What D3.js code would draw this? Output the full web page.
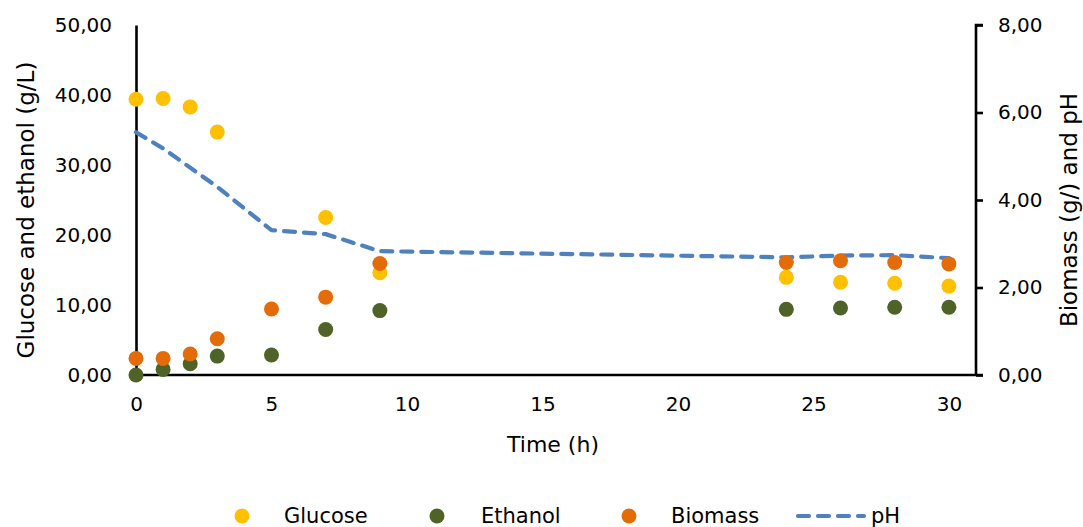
<!DOCTYPE html>
<html>
<head>
<meta charset="utf-8">
<script src="https://cdn.jsdelivr.net/npm/d3@7/dist/d3.min.js"></script>
<style>
  html, body { margin: 0; padding: 0; background: #fff; }
  svg { display: block; font-family: "DejaVu Sans", Roboto, sans-serif; }
</style>
</head>
<body>
<svg id="chart" width="1083" height="527"></svg>
<script>
// Fermentation time course
const time = [0, 1, 2, 3, 5, 7, 9, 24, 26, 28, 30];
const glucose = [39.4, 39.5, 38.3, 34.7, null, 22.5, 14.6, 13.95, 13.25, 13.1, 12.7];
const ethanol = [0.0, 0.8, 1.6, 2.7, 2.86, 6.5, 9.2, 9.38, 9.57, 9.67, 9.67];
const biomass = [0.38, 0.38, 0.48, 0.83, 1.51, 1.78, 2.55, 2.57, 2.61, 2.57, 2.54];
const ph = [5.55, 5.18, 4.74, 4.30, 3.31, 3.22, 2.83, 2.69, 2.73, 2.74, 2.67];

const xTicks = [0, 5, 10, 15, 20, 25, 30];
const leftTicks = [0, 10, 20, 30, 40, 50];
const rightTicks = [0, 2, 4, 6, 8];

const colors = { glucose: "#FFC000", ethanol: "#4F6228", biomass: "#E36C09", ph: "#4F81BD" };
const FONT = '"DejaVu Sans", Roboto, sans-serif';

const svg = d3.select("#chart");
const x = d3.scaleLinear().domain([0, 31]).range([136, 976]);
const yL = d3.scaleLinear().domain([0, 50]).range([375, 25]);
const yR = d3.scaleLinear().domain([0, 8]).range([375, 25]);

const fmt = d => d3.format(".2f")(d).replace(".", ",");

// Axes
const gx = svg.append("g").attr("transform", "translate(0,375)")
  .call(d3.axisBottom(x).tickValues(xTicks).tickSize(0).tickPadding(22).tickFormat(d3.format("d")));
const gl = svg.append("g").attr("transform", "translate(136,0)")
  .call(d3.axisLeft(yL).tickValues(leftTicks).tickSize(0).tickPadding(24).tickFormat(fmt));
const gr = svg.append("g").attr("transform", "translate(976,0)")
  .call(d3.axisRight(yR).tickValues(rightTicks).tickSize(7).tickPadding(15).tickFormat(fmt));

[gx, gl, gr].forEach(g => {
  g.select(".domain").attr("stroke", "#000").attr("stroke-width", 2.6);
  g.selectAll(".tick line").attr("stroke", "#000").attr("stroke-width", 2.6);
  g.selectAll(".tick text").attr("fill", "#000").attr("font-size", 20).attr("font-family", FONT);
});
gx.select(".domain").attr("d", `M136,0H${976 + 7}`);
gr.select(".domain").attr("d", "M7,25H0V375");

// Axis titles
svg.append("text").attr("x", 553).attr("y", 452).attr("text-anchor", "middle")
  .attr("font-size", 22).attr("fill", "#000").text("Time (h)");
svg.append("text").attr("transform", "translate(34,210) rotate(-90)").attr("text-anchor", "middle")
  .attr("font-size", 23).attr("fill", "#000").text("Glucose and ethanol (g/L)");
svg.append("text").attr("transform", "translate(1077,210) rotate(-90)").attr("text-anchor", "middle")
  .attr("font-size", 23).attr("fill", "#000").text("Biomass (g/) and pH");

// pH line (right axis)
const phData = time.map((t, i) => [t, ph[i]]);
svg.append("path").datum(phData)
  .attr("fill", "none").attr("stroke", colors.ph).attr("stroke-width", 4.2)
  .attr("stroke-dasharray", "11 9").attr("stroke-linecap", "round").attr("stroke-linejoin", "round")
  .attr("d", d3.line().x(d => x(d[0])).y(d => yR(d[1])));

// Scatter series
function dots(values, scale, color) {
  svg.append("g").selectAll("circle")
    .data(time.map((t, i) => [t, values[i]]).filter(d => d[1] != null))
    .join("circle")
    .attr("cx", d => x(d[0])).attr("cy", d => scale(d[1])).attr("r", 7.5)
    .attr("fill", color);
}
dots(glucose, yL, colors.glucose);
dots(ethanol, yL, colors.ethanol);
dots(biomass, yR, colors.biomass);

// Legend
const legend = svg.append("g");
const items = [
  { name: "Glucose", color: colors.glucose, mx: 242, tx: 284 },
  { name: "Ethanol", color: colors.ethanol, mx: 437, tx: 481 },
  { name: "Biomass", color: colors.biomass, mx: 629, tx: 671 }
];
items.forEach(it => {
  legend.append("circle").attr("cx", it.mx).attr("cy", 516).attr("r", 7.5).attr("fill", it.color);
  legend.append("text").attr("x", it.tx).attr("y", 523).attr("font-size", 21).attr("fill", "#000").text(it.name);
});
legend.append("line").attr("x1", 798).attr("x2", 864).attr("y1", 516).attr("y2", 516)
  .attr("stroke", colors.ph).attr("stroke-width", 4.2).attr("stroke-dasharray", "11 9").attr("stroke-linecap", "round");
legend.append("text").attr("x", 871).attr("y", 523).attr("font-size", 21).attr("fill", "#000").text("pH");
</script>
</body>
</html>
